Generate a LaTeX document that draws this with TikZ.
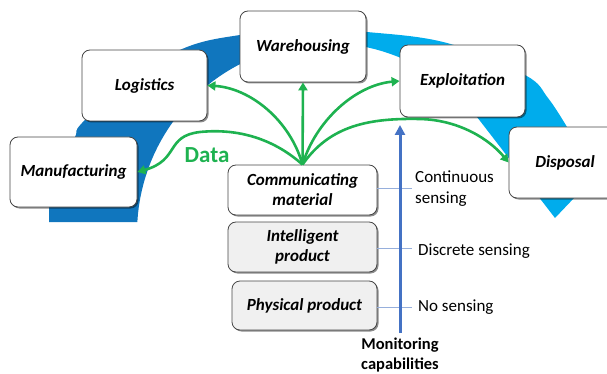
\documentclass[tikz,border=0pt]{standalone}
\usepackage{fontspec}
\setmainfont{Carlito}
\usetikzlibrary{arrows.meta,shadows}
\definecolor{bdark}{RGB}{16,118,190}
\definecolor{blight}{RGB}{0,172,236}
\definecolor{dgreen}{RGB}{30,178,80}
\definecolor{mblue}{RGB}{68,114,196}
\definecolor{tickblue}{RGB}{150,175,220}
\definecolor{boxgray}{RGB}{240,240,240}
\definecolor{edgegray}{RGB}{70,70,70}
\tikzset{
 stagebox/.style={draw=edgegray, line width=0.8pt, rounded corners=8pt, fill=white, align=center,
   font=\fontsize{17}{20}\selectfont\bfseries\itshape, inner sep=0pt,
   drop shadow={shadow xshift=1.5pt, shadow yshift=-1.5pt, opacity=0.45, fill=black}},
 graybox/.style={stagebox, fill=boxgray},
 garrow/.style={draw=dgreen, line width=2.6pt, -{Triangle[length=8pt,width=9pt]}},
 sidelbl/.style={font=\fontsize{17}{21}\selectfont, align=left, anchor=west, inner sep=0pt},
}
\def\bandpath{(49,222) -- plot[smooth,tension=0.6] coordinates {(49,207) (60,168) (75,137) (82,123) (130,78) (187,47) (240,35) (303,29) (367,32) (447,43) (525,75) (548,98) (567,127)} -- (615,155) -- (555,218) -- (477,117) -- plot[domain=37.7:176.7,samples=60] ({327+190*cos(\x)},{233-190*sin(\x)}) -- cycle}
\begin{document}
\begin{tikzpicture}[x=1pt,y=-1pt]
\useasboundingbox (0,0) rectangle (607,374);
% blue circular band
\begin{scope}
 \clip \bandpath;
 \fill[bdark] (0,0) rectangle (290,374);
 \shade[left color=bdark, right color=blight] (290,0) rectangle (320,374);
 \fill[blight] (320,0) rectangle (620,374);
\end{scope}
% stage boxes
\node[stagebox, minimum width=126pt, minimum height=71pt] (wh) at (303,46.5) {Warehousing};
\node[stagebox, minimum width=125pt, minimum height=71pt] (log) at (144.5,85.5) {Logistics};
\node[stagebox, minimum width=125pt, minimum height=72pt] (exp) at (462.5,81) {Exploitation};
\node[stagebox, minimum width=127pt, minimum height=70pt] (man) at (73.5,172) {Manufacturing};
\node[stagebox, minimum width=112pt, minimum height=71pt] (disp) at (565,162.5) {Disposal};
% product levels
\node[stagebox, minimum width=149pt, minimum height=50pt] (comm) at (302.5,190) {Communicating\\material};
\node[graybox, minimum width=149pt, minimum height=50pt] (intel) at (302.5,247) {Intelligent\\product};
\node[graybox, minimum width=145pt, minimum height=49pt] (phys) at (304.5,305.5) {Physical product};
% green data arrows
\draw[garrow] (comm.north) .. controls (290,120) and (250,88) .. (log.east);
\draw[garrow] (comm.north) -- (wh.south);
\draw[garrow] (comm.north) .. controls (316,120) and (356,85) .. (exp.west);
\draw[garrow] (comm.north) .. controls (330,125) and (370,118) .. (420,119) .. controls (460,120) and (490,140) .. (disp.west);
\draw[garrow] (comm.north) .. controls (275,140) and (240,128) .. (200,132) .. controls (165,136) and (180,160) .. (man.east);
\node[font=\fontsize{23}{26}\selectfont\bfseries, text=dgreen] (data) at (207,155) {Data};
% monitoring axis
\draw[tickblue, line width=0.7pt] (377,188) -- (412,188);
\draw[tickblue, line width=0.7pt] (377,248) -- (412,248);
\draw[tickblue, line width=0.7pt] (377,307) -- (412,307);
\coordinate (abot) at (400,333);
\coordinate (atop) at (400,125);
\draw[mblue, line width=3pt, -{Triangle[length=10pt,width=10pt]}] (abot) -- (atop);
\node[sidelbl] (cont) at (415,189) {Continuous\\sensing};
\node[sidelbl] (disc) at (418,251) {Discrete sensing};
\node[sidelbl] (nos) at (418,307) {No sensing};
\node[font=\fontsize{16.5}{20}\selectfont\bfseries, align=center] (mon) at (400,355) {Monitoring\\capabilities};
\end{tikzpicture}
\end{document}
